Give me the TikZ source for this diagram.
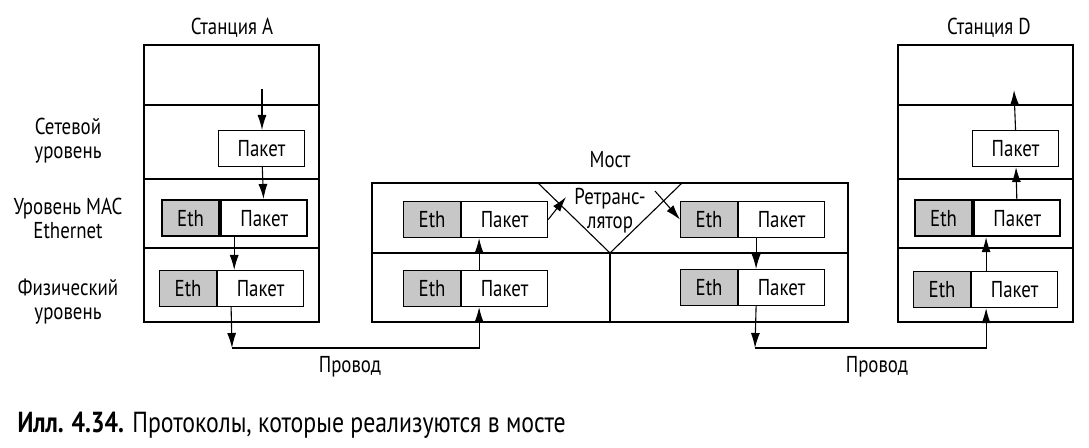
\documentclass[tikz,border=0pt]{standalone}
\usepackage{fontspec}
\setmainfont{PT Sans}[FakeStretch=0.82]
\usetikzlibrary{arrows.meta,positioning}
\begin{document}
\begin{tikzpicture}[x=1bp, y=-1bp, line width=1.1bp,
        font=\fontsize{23bp}{24bp}\selectfont,
        eth/.style={draw, fill=black!22, minimum width=57bp, minimum height=36bp, inner sep=0pt, anchor=north west},
        pkt/.style={draw, fill=white, minimum width=86bp, minimum height=36bp, inner sep=0pt},
        macfr/.style={line width=2.2bp},
        arr/.style={-{Latex[length=15bp,width=9bp]}},
        lbl/.style={align=center, inner sep=0pt}]
    \useasboundingbox (0,0) rectangle (1089,448);
    % station A
    \node[lbl] (tA) at (232,28) {Станция A};
    \draw (144,45) rectangle (319,322);
    \draw (144,105) -- (319,105) (144,179) -- (319,179) (144,248) -- (319,248);
    \node[lbl] (lNet) at (68,141) {Сетевой\\уровень};
    \node[lbl] (lMac) at (68,218) {Уровень MAC\\Ethernet};
    \node[lbl] (lPhy) at (68,302) {Физический\\уровень};
    \node[pkt, anchor=north west] (pA) at (218,130) {Пакет};
    \node[eth, macfr] (eA1) at (161,199) {Eth};
    \node[pkt, macfr, anchor=west] (pA1) at (eA1.east) {Пакет};
    \node[eth] (eA2) at (159,270) {Eth};
    \node[pkt, anchor=west] (pA2) at (eA2.east) {Пакет};
    \coordinate (inA) at (262,89);
    \coordinate (wA) at (232,348);
    \draw[arr] (inA) -- (inA |- pA.north);
    \draw[arr] (pA) -- (pA1);
    \draw[arr] ([xshift=14bp]pA1.south west) -- ([xshift=14bp]pA1.south west |- pA2.north);
    \draw[arr] ([xshift=14bp]pA2.south west) -- (wA);
    % bridge
    \node[lbl] (tB) at (610,160) {Мост};
    \draw (372,183) rectangle (848,322);
    \draw (372,253) -- (848,253) (610,253) -- (610,322);
    \draw (538,183) -- (610,253) -- (682,183);
    \node[lbl] (rep) at (610,211) {Ретранс-\\лятор};
    \node[eth] (eB1) at (403,201) {Eth};
    \node[pkt, anchor=west] (pB1) at (eB1.east) {Пакет};
    \node[eth] (eB2) at (403,270) {Eth};
    \node[pkt, anchor=west] (pB2) at (eB2.east) {Пакет};
    \node[eth] (eB3) at (680,201) {Eth};
    \node[pkt, anchor=west] (pB3) at (eB3.east) {Пакет};
    \node[eth] (eB4) at (680,269) {Eth};
    \node[pkt, anchor=west] (pB4) at (eB4.east) {Пакет};
    \coordinate (rIn) at (566,197);
    \coordinate (rOut) at (655,191);
    \coordinate (wD) at (755,348);
    \draw[arr] (wA) -| ([xshift=18bp]pB2.south west);
    \draw[arr] ([xshift=18bp]pB2.north west) -- ([xshift=18bp]pB1.south west);
    \draw[arr] (pB1.east) -- (rIn);
    \draw[arr] (rOut) -- (eB3.west);
    \draw[arr] ([xshift=18bp]pB3.south west) -- ([xshift=18bp]pB3.south west |- pB4.north);
    \draw[arr] ([xshift=18bp]pB4.south west) -- (wD);
    \node[lbl] (wire1) at (350,367) {Провод};
    \node[lbl] (wire2) at (877,367) {Провод};
    % station D
    \node[lbl] (tD) at (989,28) {Станция D};
    \draw (898,45) rectangle (1073,322);
    \draw (898,105) -- (1073,105) (898,179) -- (1073,179) (898,248) -- (1073,248);
    \node[pkt, anchor=north west] (pD) at (972,130) {Пакет};
    \node[eth, macfr] (eD1) at (914,199) {Eth};
    \node[pkt, macfr, anchor=west] (pD1) at (eD1.east) {Пакет};
    \node[eth] (eD2) at (913,271) {Eth};
    \node[pkt, anchor=west] (pD2) at (eD2.east) {Пакет};
    \coordinate (outD) at (1014,90);
    \draw[arr] (wD) -| ([xshift=15bp]pD2.south west);
    \draw[arr] ([xshift=15bp]pD2.north west) -- ([xshift=15bp]pD2.north west |- pD1.south);
    \draw[arr] (pD1) -- (pD);
    \draw[arr] (pD.north) -- (outD);
    % caption
    \node[lbl, anchor=west, font=\fontsize{29bp}{30bp}\selectfont] (cap) at (17,425) {\textbf{Илл. 4.34.} Протоколы, которые реализуются в мосте};
\end{tikzpicture}
\end{document}
